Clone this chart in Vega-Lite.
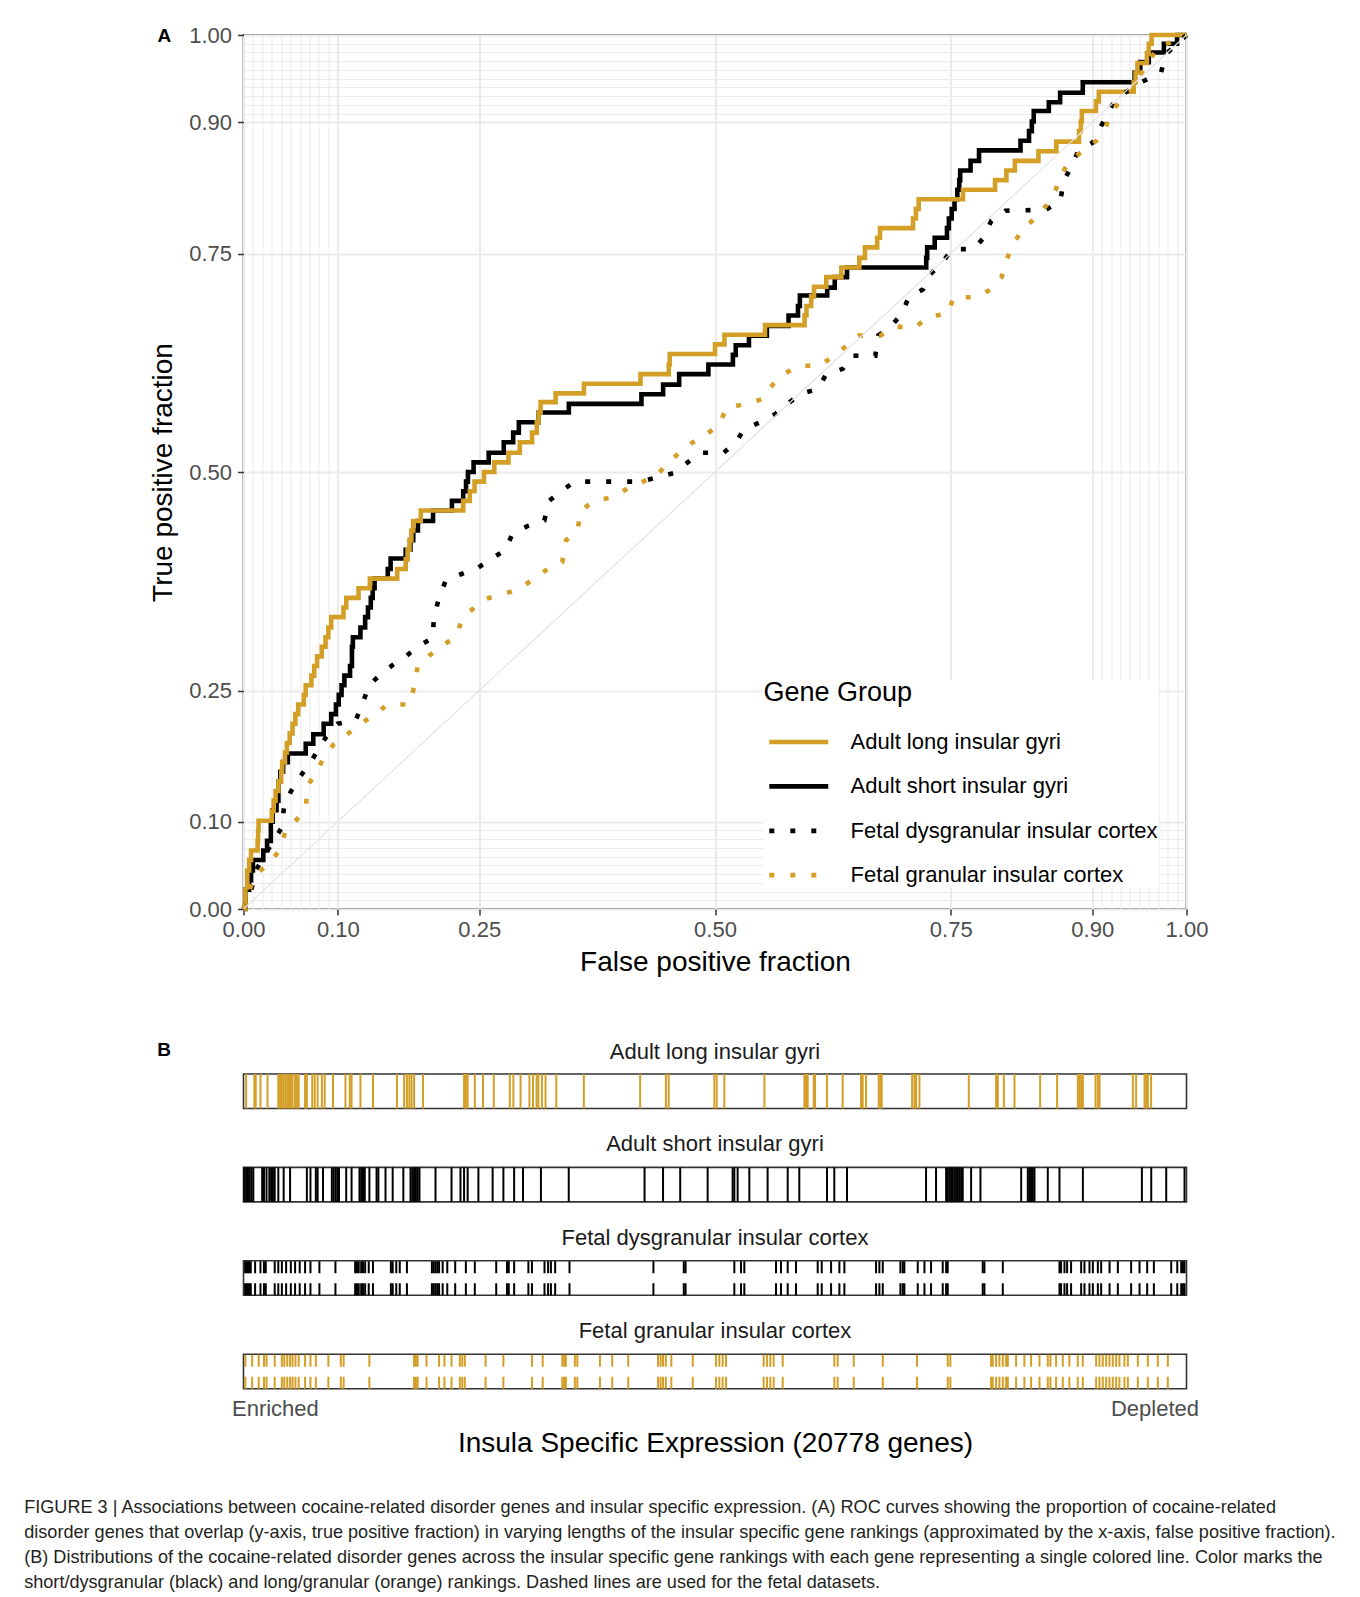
{
 "$schema": "https://vega.github.io/schema/vega-lite/v6.json",
 "background": "white",
 "padding": {"left": 23.5, "top": 23, "right": 5, "bottom": 5},
 "title": {"text": ["FIGURE 3 | Associations between cocaine-related disorder genes and insular specific expression. (A) ROC curves showing the proportion of cocaine-related", "disorder genes that overlap (y-axis, true positive fraction) in varying lengths of the insular specific gene rankings (approximated by the x-axis, false positive fraction).", "(B) Distributions of the cocaine-related disorder genes across the insular specific gene rankings with each gene representing a single colored line. Color marks the", "short/dysgranular (black) and long/granular (orange) rankings. Dashed lines are used for the fetal datasets."], "orient": "bottom", "anchor": "start", "frame": "bounds", "dx": -124.5, "offset": 40, "fontSize": 18.1, "lineHeight": 25, "fontWeight": "normal", "color": "#231F20", "font": "Liberation Sans"},
 "datasets": {
  "chance": [{"fpf": 0, "tpf": 0}, {"fpf": 1, "tpf": 1}],
  "roc_solid": [
   {"group": "Adult short insular gyri", "fpf": 0, "tpf": 0},
   {"group": "Adult short insular gyri", "fpf": 0.002, "tpf": 0.022},
   {"group": "Adult short insular gyri", "fpf": 0.006, "tpf": 0.033},
   {"group": "Adult short insular gyri", "fpf": 0.008, "tpf": 0.044},
   {"group": "Adult short insular gyri", "fpf": 0.010, "tpf": 0.056},
   {"group": "Adult short insular gyri", "fpf": 0.021, "tpf": 0.067},
   {"group": "Adult short insular gyri", "fpf": 0.025, "tpf": 0.078},
   {"group": "Adult short insular gyri", "fpf": 0.029, "tpf": 0.100},
   {"group": "Adult short insular gyri", "fpf": 0.031, "tpf": 0.113},
   {"group": "Adult short insular gyri", "fpf": 0.035, "tpf": 0.124},
   {"group": "Adult short insular gyri", "fpf": 0.037, "tpf": 0.146},
   {"group": "Adult short insular gyri", "fpf": 0.039, "tpf": 0.157},
   {"group": "Adult short insular gyri", "fpf": 0.042, "tpf": 0.168},
   {"group": "Adult short insular gyri", "fpf": 0.047, "tpf": 0.178},
   {"group": "Adult short insular gyri", "fpf": 0.066, "tpf": 0.189},
   {"group": "Adult short insular gyri", "fpf": 0.074, "tpf": 0.200},
   {"group": "Adult short insular gyri", "fpf": 0.085, "tpf": 0.212},
   {"group": "Adult short insular gyri", "fpf": 0.093, "tpf": 0.223},
   {"group": "Adult short insular gyri", "fpf": 0.098, "tpf": 0.234},
   {"group": "Adult short insular gyri", "fpf": 0.101, "tpf": 0.245},
   {"group": "Adult short insular gyri", "fpf": 0.104, "tpf": 0.256},
   {"group": "Adult short insular gyri", "fpf": 0.107, "tpf": 0.267},
   {"group": "Adult short insular gyri", "fpf": 0.113, "tpf": 0.278},
   {"group": "Adult short insular gyri", "fpf": 0.115, "tpf": 0.300},
   {"group": "Adult short insular gyri", "fpf": 0.116, "tpf": 0.311},
   {"group": "Adult short insular gyri", "fpf": 0.124, "tpf": 0.322},
   {"group": "Adult short insular gyri", "fpf": 0.129, "tpf": 0.334},
   {"group": "Adult short insular gyri", "fpf": 0.132, "tpf": 0.345},
   {"group": "Adult short insular gyri", "fpf": 0.135, "tpf": 0.356},
   {"group": "Adult short insular gyri", "fpf": 0.137, "tpf": 0.367},
   {"group": "Adult short insular gyri", "fpf": 0.139, "tpf": 0.378},
   {"group": "Adult short insular gyri", "fpf": 0.153, "tpf": 0.389},
   {"group": "Adult short insular gyri", "fpf": 0.156, "tpf": 0.401},
   {"group": "Adult short insular gyri", "fpf": 0.172, "tpf": 0.411},
   {"group": "Adult short insular gyri", "fpf": 0.177, "tpf": 0.422},
   {"group": "Adult short insular gyri", "fpf": 0.180, "tpf": 0.433},
   {"group": "Adult short insular gyri", "fpf": 0.185, "tpf": 0.444},
   {"group": "Adult short insular gyri", "fpf": 0.201, "tpf": 0.456},
   {"group": "Adult short insular gyri", "fpf": 0.221, "tpf": 0.467},
   {"group": "Adult short insular gyri", "fpf": 0.233, "tpf": 0.478},
   {"group": "Adult short insular gyri", "fpf": 0.236, "tpf": 0.489},
   {"group": "Adult short insular gyri", "fpf": 0.238, "tpf": 0.500},
   {"group": "Adult short insular gyri", "fpf": 0.244, "tpf": 0.511},
   {"group": "Adult short insular gyri", "fpf": 0.260, "tpf": 0.522},
   {"group": "Adult short insular gyri", "fpf": 0.276, "tpf": 0.534},
   {"group": "Adult short insular gyri", "fpf": 0.286, "tpf": 0.545},
   {"group": "Adult short insular gyri", "fpf": 0.292, "tpf": 0.557},
   {"group": "Adult short insular gyri", "fpf": 0.313, "tpf": 0.568},
   {"group": "Adult short insular gyri", "fpf": 0.345, "tpf": 0.578},
   {"group": "Adult short insular gyri", "fpf": 0.422, "tpf": 0.589},
   {"group": "Adult short insular gyri", "fpf": 0.445, "tpf": 0.600},
   {"group": "Adult short insular gyri", "fpf": 0.462, "tpf": 0.612},
   {"group": "Adult short insular gyri", "fpf": 0.493, "tpf": 0.623},
   {"group": "Adult short insular gyri", "fpf": 0.519, "tpf": 0.634},
   {"group": "Adult short insular gyri", "fpf": 0.522, "tpf": 0.645},
   {"group": "Adult short insular gyri", "fpf": 0.536, "tpf": 0.656},
   {"group": "Adult short insular gyri", "fpf": 0.555, "tpf": 0.667},
   {"group": "Adult short insular gyri", "fpf": 0.578, "tpf": 0.679},
   {"group": "Adult short insular gyri", "fpf": 0.588, "tpf": 0.690},
   {"group": "Adult short insular gyri", "fpf": 0.590, "tpf": 0.702},
   {"group": "Adult short insular gyri", "fpf": 0.619, "tpf": 0.711},
   {"group": "Adult short insular gyri", "fpf": 0.627, "tpf": 0.723},
   {"group": "Adult short insular gyri", "fpf": 0.640, "tpf": 0.734},
   {"group": "Adult short insular gyri", "fpf": 0.724, "tpf": 0.745},
   {"group": "Adult short insular gyri", "fpf": 0.725, "tpf": 0.757},
   {"group": "Adult short insular gyri", "fpf": 0.733, "tpf": 0.768},
   {"group": "Adult short insular gyri", "fpf": 0.746, "tpf": 0.779},
   {"group": "Adult short insular gyri", "fpf": 0.748, "tpf": 0.790},
   {"group": "Adult short insular gyri", "fpf": 0.751, "tpf": 0.801},
   {"group": "Adult short insular gyri", "fpf": 0.754, "tpf": 0.812},
   {"group": "Adult short insular gyri", "fpf": 0.757, "tpf": 0.823},
   {"group": "Adult short insular gyri", "fpf": 0.759, "tpf": 0.834},
   {"group": "Adult short insular gyri", "fpf": 0.760, "tpf": 0.845},
   {"group": "Adult short insular gyri", "fpf": 0.771, "tpf": 0.856},
   {"group": "Adult short insular gyri", "fpf": 0.780, "tpf": 0.868},
   {"group": "Adult short insular gyri", "fpf": 0.824, "tpf": 0.879},
   {"group": "Adult short insular gyri", "fpf": 0.833, "tpf": 0.890},
   {"group": "Adult short insular gyri", "fpf": 0.836, "tpf": 0.901},
   {"group": "Adult short insular gyri", "fpf": 0.838, "tpf": 0.913},
   {"group": "Adult short insular gyri", "fpf": 0.854, "tpf": 0.923},
   {"group": "Adult short insular gyri", "fpf": 0.866, "tpf": 0.934},
   {"group": "Adult short insular gyri", "fpf": 0.890, "tpf": 0.946},
   {"group": "Adult short insular gyri", "fpf": 0.945, "tpf": 0.957},
   {"group": "Adult short insular gyri", "fpf": 0.951, "tpf": 0.969},
   {"group": "Adult short insular gyri", "fpf": 0.960, "tpf": 0.980},
   {"group": "Adult short insular gyri", "fpf": 0.976, "tpf": 0.990},
   {"group": "Adult short insular gyri", "fpf": 0.990, "tpf": 1.000},
   {"group": "Adult short insular gyri", "fpf": 1.000, "tpf": 1.000},
   {"group": "Adult long insular gyri", "fpf": 0, "tpf": 0},
   {"group": "Adult long insular gyri", "fpf": 0.002, "tpf": 0.022},
   {"group": "Adult long insular gyri", "fpf": 0.004, "tpf": 0.044},
   {"group": "Adult long insular gyri", "fpf": 0.006, "tpf": 0.056},
   {"group": "Adult long insular gyri", "fpf": 0.008, "tpf": 0.067},
   {"group": "Adult long insular gyri", "fpf": 0.015, "tpf": 0.078},
   {"group": "Adult long insular gyri", "fpf": 0.0155, "tpf": 0.090},
   {"group": "Adult long insular gyri", "fpf": 0.016, "tpf": 0.101},
   {"group": "Adult long insular gyri", "fpf": 0.030, "tpf": 0.112},
   {"group": "Adult long insular gyri", "fpf": 0.032, "tpf": 0.124},
   {"group": "Adult long insular gyri", "fpf": 0.034, "tpf": 0.135},
   {"group": "Adult long insular gyri", "fpf": 0.037, "tpf": 0.146},
   {"group": "Adult long insular gyri", "fpf": 0.040, "tpf": 0.157},
   {"group": "Adult long insular gyri", "fpf": 0.041, "tpf": 0.168},
   {"group": "Adult long insular gyri", "fpf": 0.044, "tpf": 0.179},
   {"group": "Adult long insular gyri", "fpf": 0.046, "tpf": 0.190},
   {"group": "Adult long insular gyri", "fpf": 0.049, "tpf": 0.201},
   {"group": "Adult long insular gyri", "fpf": 0.052, "tpf": 0.212},
   {"group": "Adult long insular gyri", "fpf": 0.055, "tpf": 0.223},
   {"group": "Adult long insular gyri", "fpf": 0.058, "tpf": 0.234},
   {"group": "Adult long insular gyri", "fpf": 0.064, "tpf": 0.245},
   {"group": "Adult long insular gyri", "fpf": 0.066, "tpf": 0.256},
   {"group": "Adult long insular gyri", "fpf": 0.072, "tpf": 0.267},
   {"group": "Adult long insular gyri", "fpf": 0.075, "tpf": 0.278},
   {"group": "Adult long insular gyri", "fpf": 0.078, "tpf": 0.289},
   {"group": "Adult long insular gyri", "fpf": 0.083, "tpf": 0.300},
   {"group": "Adult long insular gyri", "fpf": 0.087, "tpf": 0.311},
   {"group": "Adult long insular gyri", "fpf": 0.090, "tpf": 0.322},
   {"group": "Adult long insular gyri", "fpf": 0.093, "tpf": 0.334},
   {"group": "Adult long insular gyri", "fpf": 0.106, "tpf": 0.345},
   {"group": "Adult long insular gyri", "fpf": 0.109, "tpf": 0.356},
   {"group": "Adult long insular gyri", "fpf": 0.122, "tpf": 0.367},
   {"group": "Adult long insular gyri", "fpf": 0.134, "tpf": 0.378},
   {"group": "Adult long insular gyri", "fpf": 0.163, "tpf": 0.389},
   {"group": "Adult long insular gyri", "fpf": 0.172, "tpf": 0.400},
   {"group": "Adult long insular gyri", "fpf": 0.174, "tpf": 0.411},
   {"group": "Adult long insular gyri", "fpf": 0.176, "tpf": 0.422},
   {"group": "Adult long insular gyri", "fpf": 0.178, "tpf": 0.433},
   {"group": "Adult long insular gyri", "fpf": 0.180, "tpf": 0.444},
   {"group": "Adult long insular gyri", "fpf": 0.188, "tpf": 0.456},
   {"group": "Adult long insular gyri", "fpf": 0.233, "tpf": 0.467},
   {"group": "Adult long insular gyri", "fpf": 0.240, "tpf": 0.478},
   {"group": "Adult long insular gyri", "fpf": 0.245, "tpf": 0.489},
   {"group": "Adult long insular gyri", "fpf": 0.255, "tpf": 0.500},
   {"group": "Adult long insular gyri", "fpf": 0.266, "tpf": 0.511},
   {"group": "Adult long insular gyri", "fpf": 0.281, "tpf": 0.522},
   {"group": "Adult long insular gyri", "fpf": 0.293, "tpf": 0.534},
   {"group": "Adult long insular gyri", "fpf": 0.306, "tpf": 0.545},
   {"group": "Adult long insular gyri", "fpf": 0.311, "tpf": 0.557},
   {"group": "Adult long insular gyri", "fpf": 0.313, "tpf": 0.568},
   {"group": "Adult long insular gyri", "fpf": 0.315, "tpf": 0.580},
   {"group": "Adult long insular gyri", "fpf": 0.331, "tpf": 0.590},
   {"group": "Adult long insular gyri", "fpf": 0.361, "tpf": 0.601},
   {"group": "Adult long insular gyri", "fpf": 0.421, "tpf": 0.612},
   {"group": "Adult long insular gyri", "fpf": 0.451, "tpf": 0.623},
   {"group": "Adult long insular gyri", "fpf": 0.452, "tpf": 0.635},
   {"group": "Adult long insular gyri", "fpf": 0.500, "tpf": 0.646},
   {"group": "Adult long insular gyri", "fpf": 0.510, "tpf": 0.657},
   {"group": "Adult long insular gyri", "fpf": 0.553, "tpf": 0.668},
   {"group": "Adult long insular gyri", "fpf": 0.595, "tpf": 0.679},
   {"group": "Adult long insular gyri", "fpf": 0.597, "tpf": 0.690},
   {"group": "Adult long insular gyri", "fpf": 0.602, "tpf": 0.701},
   {"group": "Adult long insular gyri", "fpf": 0.605, "tpf": 0.712},
   {"group": "Adult long insular gyri", "fpf": 0.618, "tpf": 0.723},
   {"group": "Adult long insular gyri", "fpf": 0.634, "tpf": 0.734},
   {"group": "Adult long insular gyri", "fpf": 0.653, "tpf": 0.745},
   {"group": "Adult long insular gyri", "fpf": 0.659, "tpf": 0.757},
   {"group": "Adult long insular gyri", "fpf": 0.672, "tpf": 0.768},
   {"group": "Adult long insular gyri", "fpf": 0.675, "tpf": 0.779},
   {"group": "Adult long insular gyri", "fpf": 0.710, "tpf": 0.790},
   {"group": "Adult long insular gyri", "fpf": 0.713, "tpf": 0.801},
   {"group": "Adult long insular gyri", "fpf": 0.716, "tpf": 0.812},
   {"group": "Adult long insular gyri", "fpf": 0.763, "tpf": 0.823},
   {"group": "Adult long insular gyri", "fpf": 0.797, "tpf": 0.834},
   {"group": "Adult long insular gyri", "fpf": 0.809, "tpf": 0.845},
   {"group": "Adult long insular gyri", "fpf": 0.818, "tpf": 0.856},
   {"group": "Adult long insular gyri", "fpf": 0.843, "tpf": 0.867},
   {"group": "Adult long insular gyri", "fpf": 0.862, "tpf": 0.878},
   {"group": "Adult long insular gyri", "fpf": 0.886, "tpf": 0.890},
   {"group": "Adult long insular gyri", "fpf": 0.888, "tpf": 0.901},
   {"group": "Adult long insular gyri", "fpf": 0.889, "tpf": 0.913},
   {"group": "Adult long insular gyri", "fpf": 0.904, "tpf": 0.924},
   {"group": "Adult long insular gyri", "fpf": 0.907, "tpf": 0.935},
   {"group": "Adult long insular gyri", "fpf": 0.944, "tpf": 0.946},
   {"group": "Adult long insular gyri", "fpf": 0.946, "tpf": 0.957},
   {"group": "Adult long insular gyri", "fpf": 0.948, "tpf": 0.968},
   {"group": "Adult long insular gyri", "fpf": 0.958, "tpf": 0.979},
   {"group": "Adult long insular gyri", "fpf": 0.960, "tpf": 0.990},
   {"group": "Adult long insular gyri", "fpf": 0.963, "tpf": 1.000},
   {"group": "Adult long insular gyri", "fpf": 1.000, "tpf": 1.000}
  ],
  "roc_dotted": [
   {"group": "Fetal dysgranular insular cortex", "fpf": 0, "tpf": 0},
   {"group": "Fetal dysgranular insular cortex", "fpf": 0.008, "tpf": 0.021},
   {"group": "Fetal dysgranular insular cortex", "fpf": 0.013, "tpf": 0.044},
   {"group": "Fetal dysgranular insular cortex", "fpf": 0.025, "tpf": 0.066},
   {"group": "Fetal dysgranular insular cortex", "fpf": 0.040, "tpf": 0.092},
   {"group": "Fetal dysgranular insular cortex", "fpf": 0.043, "tpf": 0.116},
   {"group": "Fetal dysgranular insular cortex", "fpf": 0.050, "tpf": 0.134},
   {"group": "Fetal dysgranular insular cortex", "fpf": 0.059, "tpf": 0.150},
   {"group": "Fetal dysgranular insular cortex", "fpf": 0.070, "tpf": 0.166},
   {"group": "Fetal dysgranular insular cortex", "fpf": 0.0785, "tpf": 0.181},
   {"group": "Fetal dysgranular insular cortex", "fpf": 0.087, "tpf": 0.196},
   {"group": "Fetal dysgranular insular cortex", "fpf": 0.100, "tpf": 0.212},
   {"group": "Fetal dysgranular insular cortex", "fpf": 0.119, "tpf": 0.216},
   {"group": "Fetal dysgranular insular cortex", "fpf": 0.126, "tpf": 0.234},
   {"group": "Fetal dysgranular insular cortex", "fpf": 0.133, "tpf": 0.256},
   {"group": "Fetal dysgranular insular cortex", "fpf": 0.144, "tpf": 0.267},
   {"group": "Fetal dysgranular insular cortex", "fpf": 0.158, "tpf": 0.279},
   {"group": "Fetal dysgranular insular cortex", "fpf": 0.172, "tpf": 0.289},
   {"group": "Fetal dysgranular insular cortex", "fpf": 0.186, "tpf": 0.301},
   {"group": "Fetal dysgranular insular cortex", "fpf": 0.2005, "tpf": 0.310},
   {"group": "Fetal dysgranular insular cortex", "fpf": 0.202, "tpf": 0.334},
   {"group": "Fetal dysgranular insular cortex", "fpf": 0.2076, "tpf": 0.357},
   {"group": "Fetal dysgranular insular cortex", "fpf": 0.2146, "tpf": 0.376},
   {"group": "Fetal dysgranular insular cortex", "fpf": 0.2305, "tpf": 0.383},
   {"group": "Fetal dysgranular insular cortex", "fpf": 0.248, "tpf": 0.390},
   {"group": "Fetal dysgranular insular cortex", "fpf": 0.262, "tpf": 0.400},
   {"group": "Fetal dysgranular insular cortex", "fpf": 0.278, "tpf": 0.411},
   {"group": "Fetal dysgranular insular cortex", "fpf": 0.285, "tpf": 0.429},
   {"group": "Fetal dysgranular insular cortex", "fpf": 0.301, "tpf": 0.438},
   {"group": "Fetal dysgranular insular cortex", "fpf": 0.319, "tpf": 0.4445},
   {"group": "Fetal dysgranular insular cortex", "fpf": 0.324, "tpf": 0.467},
   {"group": "Fetal dysgranular insular cortex", "fpf": 0.337, "tpf": 0.478},
   {"group": "Fetal dysgranular insular cortex", "fpf": 0.351, "tpf": 0.489},
   {"group": "Fetal dysgranular insular cortex", "fpf": 0.4214, "tpf": 0.489},
   {"group": "Fetal dysgranular insular cortex", "fpf": 0.457, "tpf": 0.499},
   {"group": "Fetal dysgranular insular cortex", "fpf": 0.471, "tpf": 0.511},
   {"group": "Fetal dysgranular insular cortex", "fpf": 0.484, "tpf": 0.522},
   {"group": "Fetal dysgranular insular cortex", "fpf": 0.509, "tpf": 0.522},
   {"group": "Fetal dysgranular insular cortex", "fpf": 0.522, "tpf": 0.534},
   {"group": "Fetal dysgranular insular cortex", "fpf": 0.531, "tpf": 0.549},
   {"group": "Fetal dysgranular insular cortex", "fpf": 0.548, "tpf": 0.557},
   {"group": "Fetal dysgranular insular cortex", "fpf": 0.5635, "tpf": 0.566},
   {"group": "Fetal dysgranular insular cortex", "fpf": 0.577, "tpf": 0.578},
   {"group": "Fetal dysgranular insular cortex", "fpf": 0.590, "tpf": 0.589},
   {"group": "Fetal dysgranular insular cortex", "fpf": 0.609, "tpf": 0.595},
   {"group": "Fetal dysgranular insular cortex", "fpf": 0.618, "tpf": 0.612},
   {"group": "Fetal dysgranular insular cortex", "fpf": 0.6355, "tpf": 0.618},
   {"group": "Fetal dysgranular insular cortex", "fpf": 0.645, "tpf": 0.633},
   {"group": "Fetal dysgranular insular cortex", "fpf": 0.670, "tpf": 0.633},
   {"group": "Fetal dysgranular insular cortex", "fpf": 0.673, "tpf": 0.656},
   {"group": "Fetal dysgranular insular cortex", "fpf": 0.687, "tpf": 0.667},
   {"group": "Fetal dysgranular insular cortex", "fpf": 0.698, "tpf": 0.681},
   {"group": "Fetal dysgranular insular cortex", "fpf": 0.7055, "tpf": 0.700},
   {"group": "Fetal dysgranular insular cortex", "fpf": 0.7206, "tpf": 0.709},
   {"group": "Fetal dysgranular insular cortex", "fpf": 0.728, "tpf": 0.726},
   {"group": "Fetal dysgranular insular cortex", "fpf": 0.7416, "tpf": 0.740},
   {"group": "Fetal dysgranular insular cortex", "fpf": 0.751, "tpf": 0.755},
   {"group": "Fetal dysgranular insular cortex", "fpf": 0.774, "tpf": 0.755},
   {"group": "Fetal dysgranular insular cortex", "fpf": 0.785, "tpf": 0.768},
   {"group": "Fetal dysgranular insular cortex", "fpf": 0.793, "tpf": 0.7875},
   {"group": "Fetal dysgranular insular cortex", "fpf": 0.808, "tpf": 0.799},
   {"group": "Fetal dysgranular insular cortex", "fpf": 0.851, "tpf": 0.800},
   {"group": "Fetal dysgranular insular cortex", "fpf": 0.866, "tpf": 0.810},
   {"group": "Fetal dysgranular insular cortex", "fpf": 0.870, "tpf": 0.833},
   {"group": "Fetal dysgranular insular cortex", "fpf": 0.878, "tpf": 0.850},
   {"group": "Fetal dysgranular insular cortex", "fpf": 0.8855, "tpf": 0.868},
   {"group": "Fetal dysgranular insular cortex", "fpf": 0.9006, "tpf": 0.877},
   {"group": "Fetal dysgranular insular cortex", "fpf": 0.910, "tpf": 0.897},
   {"group": "Fetal dysgranular insular cortex", "fpf": 0.918, "tpf": 0.913},
   {"group": "Fetal dysgranular insular cortex", "fpf": 0.925, "tpf": 0.927},
   {"group": "Fetal dysgranular insular cortex", "fpf": 0.952, "tpf": 0.946},
   {"group": "Fetal dysgranular insular cortex", "fpf": 0.973, "tpf": 0.957},
   {"group": "Fetal dysgranular insular cortex", "fpf": 0.978, "tpf": 0.978},
   {"group": "Fetal dysgranular insular cortex", "fpf": 0.993, "tpf": 0.993},
   {"group": "Fetal dysgranular insular cortex", "fpf": 1.0, "tpf": 1.0},
   {"group": "Fetal granular insular cortex", "fpf": 0, "tpf": 0},
   {"group": "Fetal granular insular cortex", "fpf": 0.006, "tpf": 0.021},
   {"group": "Fetal granular insular cortex", "fpf": 0.013, "tpf": 0.040},
   {"group": "Fetal granular insular cortex", "fpf": 0.027, "tpf": 0.0515},
   {"group": "Fetal granular insular cortex", "fpf": 0.038, "tpf": 0.067},
   {"group": "Fetal granular insular cortex", "fpf": 0.045, "tpf": 0.090},
   {"group": "Fetal granular insular cortex", "fpf": 0.0555, "tpf": 0.101},
   {"group": "Fetal granular insular cortex", "fpf": 0.066, "tpf": 0.116},
   {"group": "Fetal granular insular cortex", "fpf": 0.068, "tpf": 0.141},
   {"group": "Fetal granular insular cortex", "fpf": 0.077, "tpf": 0.156},
   {"group": "Fetal granular insular cortex", "fpf": 0.0856, "tpf": 0.174},
   {"group": "Fetal granular insular cortex", "fpf": 0.096, "tpf": 0.189},
   {"group": "Fetal granular insular cortex", "fpf": 0.110, "tpf": 0.200},
   {"group": "Fetal granular insular cortex", "fpf": 0.1245, "tpf": 0.212},
   {"group": "Fetal granular insular cortex", "fpf": 0.1386, "tpf": 0.222},
   {"group": "Fetal granular insular cortex", "fpf": 0.1528, "tpf": 0.234},
   {"group": "Fetal granular insular cortex", "fpf": 0.1757, "tpf": 0.234},
   {"group": "Fetal granular insular cortex", "fpf": 0.181, "tpf": 0.254},
   {"group": "Fetal granular insular cortex", "fpf": 0.1846, "tpf": 0.277},
   {"group": "Fetal granular insular cortex", "fpf": 0.197, "tpf": 0.290},
   {"group": "Fetal granular insular cortex", "fpf": 0.211, "tpf": 0.301},
   {"group": "Fetal granular insular cortex", "fpf": 0.225, "tpf": 0.312},
   {"group": "Fetal granular insular cortex", "fpf": 0.2323, "tpf": 0.332},
   {"group": "Fetal granular insular cortex", "fpf": 0.2447, "tpf": 0.345},
   {"group": "Fetal granular insular cortex", "fpf": 0.257, "tpf": 0.355},
   {"group": "Fetal granular insular cortex", "fpf": 0.2765, "tpf": 0.3605},
   {"group": "Fetal granular insular cortex", "fpf": 0.294, "tpf": 0.367},
   {"group": "Fetal granular insular cortex", "fpf": 0.308, "tpf": 0.378},
   {"group": "Fetal granular insular cortex", "fpf": 0.3225, "tpf": 0.389},
   {"group": "Fetal granular insular cortex", "fpf": 0.338, "tpf": 0.397},
   {"group": "Fetal granular insular cortex", "fpf": 0.342, "tpf": 0.422},
   {"group": "Fetal granular insular cortex", "fpf": 0.354, "tpf": 0.433},
   {"group": "Fetal granular insular cortex", "fpf": 0.358, "tpf": 0.456},
   {"group": "Fetal granular insular cortex", "fpf": 0.372, "tpf": 0.467},
   {"group": "Fetal granular insular cortex", "fpf": 0.391, "tpf": 0.471},
   {"group": "Fetal granular insular cortex", "fpf": 0.407, "tpf": 0.481},
   {"group": "Fetal granular insular cortex", "fpf": 0.4214, "tpf": 0.488},
   {"group": "Fetal granular insular cortex", "fpf": 0.4385, "tpf": 0.4956},
   {"group": "Fetal granular insular cortex", "fpf": 0.4498, "tpf": 0.511},
   {"group": "Fetal granular insular cortex", "fpf": 0.4764, "tpf": 0.534},
   {"group": "Fetal granular insular cortex", "fpf": 0.4915, "tpf": 0.5433},
   {"group": "Fetal granular insular cortex", "fpf": 0.5048, "tpf": 0.555},
   {"group": "Fetal granular insular cortex", "fpf": 0.5124, "tpf": 0.574},
   {"group": "Fetal granular insular cortex", "fpf": 0.533, "tpf": 0.5776},
   {"group": "Fetal granular insular cortex", "fpf": 0.550, "tpf": 0.5834},
   {"group": "Fetal granular insular cortex", "fpf": 0.5616, "tpf": 0.6005},
   {"group": "Fetal granular insular cortex", "fpf": 0.573, "tpf": 0.612},
   {"group": "Fetal granular insular cortex", "fpf": 0.588, "tpf": 0.6215},
   {"group": "Fetal granular insular cortex", "fpf": 0.611, "tpf": 0.6215},
   {"group": "Fetal granular insular cortex", "fpf": 0.626, "tpf": 0.633},
   {"group": "Fetal granular insular cortex", "fpf": 0.639, "tpf": 0.644},
   {"group": "Fetal granular insular cortex", "fpf": 0.6525, "tpf": 0.656},
   {"group": "Fetal granular insular cortex", "fpf": 0.675, "tpf": 0.656},
   {"group": "Fetal granular insular cortex", "fpf": 0.690, "tpf": 0.666},
   {"group": "Fetal granular insular cortex", "fpf": 0.713, "tpf": 0.666},
   {"group": "Fetal granular insular cortex", "fpf": 0.7264, "tpf": 0.678},
   {"group": "Fetal granular insular cortex", "fpf": 0.747, "tpf": 0.681},
   {"group": "Fetal granular insular cortex", "fpf": 0.753, "tpf": 0.700},
   {"group": "Fetal granular insular cortex", "fpf": 0.7776, "tpf": 0.700},
   {"group": "Fetal granular insular cortex", "fpf": 0.7926, "tpf": 0.709},
   {"group": "Fetal granular insular cortex", "fpf": 0.804, "tpf": 0.723},
   {"group": "Fetal granular insular cortex", "fpf": 0.8097, "tpf": 0.744},
   {"group": "Fetal granular insular cortex", "fpf": 0.8173, "tpf": 0.763},
   {"group": "Fetal granular insular cortex", "fpf": 0.8267, "tpf": 0.778},
   {"group": "Fetal granular insular cortex", "fpf": 0.838, "tpf": 0.789},
   {"group": "Fetal granular insular cortex", "fpf": 0.8514, "tpf": 0.805},
   {"group": "Fetal granular insular cortex", "fpf": 0.861, "tpf": 0.822},
   {"group": "Fetal granular insular cortex", "fpf": 0.8666, "tpf": 0.839},
   {"group": "Fetal granular insular cortex", "fpf": 0.876, "tpf": 0.856},
   {"group": "Fetal granular insular cortex", "fpf": 0.8912, "tpf": 0.868},
   {"group": "Fetal granular insular cortex", "fpf": 0.9045, "tpf": 0.879},
   {"group": "Fetal granular insular cortex", "fpf": 0.914, "tpf": 0.894},
   {"group": "Fetal granular insular cortex", "fpf": 0.9215, "tpf": 0.913},
   {"group": "Fetal granular insular cortex", "fpf": 0.931, "tpf": 0.927},
   {"group": "Fetal granular insular cortex", "fpf": 0.944, "tpf": 0.938},
   {"group": "Fetal granular insular cortex", "fpf": 0.9536, "tpf": 0.959},
   {"group": "Fetal granular insular cortex", "fpf": 0.971, "tpf": 0.988},
   {"group": "Fetal granular insular cortex", "fpf": 0.982, "tpf": 0.991},
   {"group": "Fetal granular insular cortex", "fpf": 1.0, "tpf": 1.0}
  ],
  "strips": [
   {"group": "Adult long insular gyri", "pct": 0.0028}, {"group": "Adult long insular gyri", "pct": 0.0115}, {"group": "Adult long insular gyri", "pct": 0.013}, {"group": "Adult long insular gyri", "pct": 0.018}, {"group": "Adult long insular gyri", "pct": 0.0255}, {"group": "Adult long insular gyri", "pct": 0.0369}, {"group": "Adult long insular gyri", "pct": 0.0388}, {"group": "Adult long insular gyri", "pct": 0.0407}, {"group": "Adult long insular gyri", "pct": 0.0426}, {"group": "Adult long insular gyri", "pct": 0.0445}, {"group": "Adult long insular gyri", "pct": 0.0464}, {"group": "Adult long insular gyri", "pct": 0.0483}, {"group": "Adult long insular gyri", "pct": 0.0502}, {"group": "Adult long insular gyri", "pct": 0.052}, {"group": "Adult long insular gyri", "pct": 0.0547}, {"group": "Adult long insular gyri", "pct": 0.0566}, {"group": "Adult long insular gyri", "pct": 0.0585}, {"group": "Adult long insular gyri", "pct": 0.0653}, {"group": "Adult long insular gyri", "pct": 0.0672}, {"group": "Adult long insular gyri", "pct": 0.0729}, {"group": "Adult long insular gyri", "pct": 0.0755}, {"group": "Adult long insular gyri", "pct": 0.0786}, {"group": "Adult long insular gyri", "pct": 0.0831}, {"group": "Adult long insular gyri", "pct": 0.0861}, {"group": "Adult long insular gyri", "pct": 0.0949}, {"group": "Adult long insular gyri", "pct": 0.1081}, {"group": "Adult long insular gyri", "pct": 0.1127}, {"group": "Adult long insular gyri", "pct": 0.1146}, {"group": "Adult long insular gyri", "pct": 0.124}, {"group": "Adult long insular gyri", "pct": 0.1373}, {"group": "Adult long insular gyri", "pct": 0.1627}, {"group": "Adult long insular gyri", "pct": 0.1703}, {"group": "Adult long insular gyri", "pct": 0.1733}, {"group": "Adult long insular gyri", "pct": 0.1759}, {"group": "Adult long insular gyri", "pct": 0.1782}, {"group": "Adult long insular gyri", "pct": 0.1809}, {"group": "Adult long insular gyri", "pct": 0.1904}, {"group": "Adult long insular gyri", "pct": 0.2339}, {"group": "Adult long insular gyri", "pct": 0.2358}, {"group": "Adult long insular gyri", "pct": 0.2377}, {"group": "Adult long insular gyri", "pct": 0.2453}, {"group": "Adult long insular gyri", "pct": 0.254}, {"group": "Adult long insular gyri", "pct": 0.2654}, {"group": "Adult long insular gyri", "pct": 0.2824}, {"group": "Adult long insular gyri", "pct": 0.2862}, {"group": "Adult long insular gyri", "pct": 0.2938}, {"group": "Adult long insular gyri", "pct": 0.3032}, {"group": "Adult long insular gyri", "pct": 0.307}, {"group": "Adult long insular gyri", "pct": 0.3108}, {"group": "Adult long insular gyri", "pct": 0.3127}, {"group": "Adult long insular gyri", "pct": 0.3165}, {"group": "Adult long insular gyri", "pct": 0.3203}, {"group": "Adult long insular gyri", "pct": 0.3317}, {"group": "Adult long insular gyri", "pct": 0.3609}, {"group": "Adult long insular gyri", "pct": 0.4206}, {"group": "Adult long insular gyri", "pct": 0.4479}, {"group": "Adult long insular gyri", "pct": 0.4509}, {"group": "Adult long insular gyri", "pct": 0.4993}, {"group": "Adult long insular gyri", "pct": 0.5018}, {"group": "Adult long insular gyri", "pct": 0.5099}, {"group": "Adult long insular gyri", "pct": 0.5524}, {"group": "Adult long insular gyri", "pct": 0.5948}, {"group": "Adult long insular gyri", "pct": 0.5965}, {"group": "Adult long insular gyri", "pct": 0.5983}, {"group": "Adult long insular gyri", "pct": 0.6047}, {"group": "Adult long insular gyri", "pct": 0.6061}, {"group": "Adult long insular gyri", "pct": 0.6188}, {"group": "Adult long insular gyri", "pct": 0.6354}, {"group": "Adult long insular gyri", "pct": 0.6549}, {"group": "Adult long insular gyri", "pct": 0.6566}, {"group": "Adult long insular gyri", "pct": 0.6602}, {"group": "Adult long insular gyri", "pct": 0.6736}, {"group": "Adult long insular gyri", "pct": 0.6754}, {"group": "Adult long insular gyri", "pct": 0.6768}, {"group": "Adult long insular gyri", "pct": 0.709}, {"group": "Adult long insular gyri", "pct": 0.7115}, {"group": "Adult long insular gyri", "pct": 0.7132}, {"group": "Adult long insular gyri", "pct": 0.7168}, {"group": "Adult long insular gyri", "pct": 0.7691}, {"group": "Adult long insular gyri", "pct": 0.7981}, {"group": "Adult long insular gyri", "pct": 0.7999}, {"group": "Adult long insular gyri", "pct": 0.8063}, {"group": "Adult long insular gyri", "pct": 0.8176}, {"group": "Adult long insular gyri", "pct": 0.8448}, {"group": "Adult long insular gyri", "pct": 0.8628}, {"group": "Adult long insular gyri", "pct": 0.8848}, {"group": "Adult long insular gyri", "pct": 0.8865}, {"group": "Adult long insular gyri", "pct": 0.8883}, {"group": "Adult long insular gyri", "pct": 0.8901}, {"group": "Adult long insular gyri", "pct": 0.9035}, {"group": "Adult long insular gyri", "pct": 0.906}, {"group": "Adult long insular gyri", "pct": 0.9078}, {"group": "Adult long insular gyri", "pct": 0.9431}, {"group": "Adult long insular gyri", "pct": 0.9466}, {"group": "Adult long insular gyri", "pct": 0.9555}, {"group": "Adult long insular gyri", "pct": 0.9572}, {"group": "Adult long insular gyri", "pct": 0.959}, {"group": "Adult long insular gyri", "pct": 0.9625},
   {"group": "Adult short insular gyri", "pct": 0.0009}, {"group": "Adult short insular gyri", "pct": 0.0028}, {"group": "Adult short insular gyri", "pct": 0.0047}, {"group": "Adult short insular gyri", "pct": 0.0066}, {"group": "Adult short insular gyri", "pct": 0.0085}, {"group": "Adult short insular gyri", "pct": 0.0104}, {"group": "Adult short insular gyri", "pct": 0.0198}, {"group": "Adult short insular gyri", "pct": 0.0217}, {"group": "Adult short insular gyri", "pct": 0.0244}, {"group": "Adult short insular gyri", "pct": 0.0274}, {"group": "Adult short insular gyri", "pct": 0.0293}, {"group": "Adult short insular gyri", "pct": 0.0312}, {"group": "Adult short insular gyri", "pct": 0.0331}, {"group": "Adult short insular gyri", "pct": 0.0369}, {"group": "Adult short insular gyri", "pct": 0.0426}, {"group": "Adult short insular gyri", "pct": 0.0494}, {"group": "Adult short insular gyri", "pct": 0.0672}, {"group": "Adult short insular gyri", "pct": 0.071}, {"group": "Adult short insular gyri", "pct": 0.0767}, {"group": "Adult short insular gyri", "pct": 0.0786}, {"group": "Adult short insular gyri", "pct": 0.0843}, {"group": "Adult short insular gyri", "pct": 0.0937}, {"group": "Adult short insular gyri", "pct": 0.0956}, {"group": "Adult short insular gyri", "pct": 0.0975}, {"group": "Adult short insular gyri", "pct": 0.0994}, {"group": "Adult short insular gyri", "pct": 0.1013}, {"group": "Adult short insular gyri", "pct": 0.1089}, {"group": "Adult short insular gyri", "pct": 0.1146}, {"group": "Adult short insular gyri", "pct": 0.123}, {"group": "Adult short insular gyri", "pct": 0.1248}, {"group": "Adult short insular gyri", "pct": 0.1267}, {"group": "Adult short insular gyri", "pct": 0.1286}, {"group": "Adult short insular gyri", "pct": 0.1335}, {"group": "Adult short insular gyri", "pct": 0.1411}, {"group": "Adult short insular gyri", "pct": 0.143}, {"group": "Adult short insular gyri", "pct": 0.1506}, {"group": "Adult short insular gyri", "pct": 0.1582}, {"group": "Adult short insular gyri", "pct": 0.1695}, {"group": "Adult short insular gyri", "pct": 0.1771}, {"group": "Adult short insular gyri", "pct": 0.179}, {"group": "Adult short insular gyri", "pct": 0.1809}, {"group": "Adult short insular gyri", "pct": 0.1828}, {"group": "Adult short insular gyri", "pct": 0.1847}, {"group": "Adult short insular gyri", "pct": 0.1866}, {"group": "Adult short insular gyri", "pct": 0.2036}, {"group": "Adult short insular gyri", "pct": 0.2206}, {"group": "Adult short insular gyri", "pct": 0.2301}, {"group": "Adult short insular gyri", "pct": 0.2339}, {"group": "Adult short insular gyri", "pct": 0.2377}, {"group": "Adult short insular gyri", "pct": 0.2491}, {"group": "Adult short insular gyri", "pct": 0.2642}, {"group": "Adult short insular gyri", "pct": 0.2756}, {"group": "Adult short insular gyri", "pct": 0.287}, {"group": "Adult short insular gyri", "pct": 0.2964}, {"group": "Adult short insular gyri", "pct": 0.3154}, {"group": "Adult short insular gyri", "pct": 0.3449}, {"group": "Adult short insular gyri", "pct": 0.4253}, {"group": "Adult short insular gyri", "pct": 0.4449}, {"group": "Adult short insular gyri", "pct": 0.4631}, {"group": "Adult short insular gyri", "pct": 0.4922}, {"group": "Adult short insular gyri", "pct": 0.5187}, {"group": "Adult short insular gyri", "pct": 0.5205}, {"group": "Adult short insular gyri", "pct": 0.524}, {"group": "Adult short insular gyri", "pct": 0.5364}, {"group": "Adult short insular gyri", "pct": 0.5558}, {"group": "Adult short insular gyri", "pct": 0.5771}, {"group": "Adult short insular gyri", "pct": 0.5894}, {"group": "Adult short insular gyri", "pct": 0.6188}, {"group": "Adult short insular gyri", "pct": 0.6265}, {"group": "Adult short insular gyri", "pct": 0.64}, {"group": "Adult short insular gyri", "pct": 0.7238}, {"group": "Adult short insular gyri", "pct": 0.7344}, {"group": "Adult short insular gyri", "pct": 0.7451}, {"group": "Adult short insular gyri", "pct": 0.7468}, {"group": "Adult short insular gyri", "pct": 0.7486}, {"group": "Adult short insular gyri", "pct": 0.7504}, {"group": "Adult short insular gyri", "pct": 0.7521}, {"group": "Adult short insular gyri", "pct": 0.7539}, {"group": "Adult short insular gyri", "pct": 0.7557}, {"group": "Adult short insular gyri", "pct": 0.7575}, {"group": "Adult short insular gyri", "pct": 0.7592}, {"group": "Adult short insular gyri", "pct": 0.761}, {"group": "Adult short insular gyri", "pct": 0.7627}, {"group": "Adult short insular gyri", "pct": 0.7716}, {"group": "Adult short insular gyri", "pct": 0.7815}, {"group": "Adult short insular gyri", "pct": 0.8247}, {"group": "Adult short insular gyri", "pct": 0.8317}, {"group": "Adult short insular gyri", "pct": 0.8335}, {"group": "Adult short insular gyri", "pct": 0.8352}, {"group": "Adult short insular gyri", "pct": 0.837}, {"group": "Adult short insular gyri", "pct": 0.8388}, {"group": "Adult short insular gyri", "pct": 0.8529}, {"group": "Adult short insular gyri", "pct": 0.8653}, {"group": "Adult short insular gyri", "pct": 0.8901}, {"group": "Adult short insular gyri", "pct": 0.9527}, {"group": "Adult short insular gyri", "pct": 0.9626}, {"group": "Adult short insular gyri", "pct": 0.9785}, {"group": "Adult short insular gyri", "pct": 0.9979},
   {"group": "Fetal dysgranular insular cortex", "pct": 0.0017}, {"group": "Fetal dysgranular insular cortex", "pct": 0.0032}, {"group": "Fetal dysgranular insular cortex", "pct": 0.0047}, {"group": "Fetal dysgranular insular cortex", "pct": 0.0062}, {"group": "Fetal dysgranular insular cortex", "pct": 0.0077}, {"group": "Fetal dysgranular insular cortex", "pct": 0.0123}, {"group": "Fetal dysgranular insular cortex", "pct": 0.018}, {"group": "Fetal dysgranular insular cortex", "pct": 0.0217}, {"group": "Fetal dysgranular insular cortex", "pct": 0.0236}, {"group": "Fetal dysgranular insular cortex", "pct": 0.0331}, {"group": "Fetal dysgranular insular cortex", "pct": 0.0369}, {"group": "Fetal dysgranular insular cortex", "pct": 0.0407}, {"group": "Fetal dysgranular insular cortex", "pct": 0.0452}, {"group": "Fetal dysgranular insular cortex", "pct": 0.0502}, {"group": "Fetal dysgranular insular cortex", "pct": 0.0547}, {"group": "Fetal dysgranular insular cortex", "pct": 0.0596}, {"group": "Fetal dysgranular insular cortex", "pct": 0.0653}, {"group": "Fetal dysgranular insular cortex", "pct": 0.071}, {"group": "Fetal dysgranular insular cortex", "pct": 0.0805}, {"group": "Fetal dysgranular insular cortex", "pct": 0.0975}, {"group": "Fetal dysgranular insular cortex", "pct": 0.1184}, {"group": "Fetal dysgranular insular cortex", "pct": 0.1203}, {"group": "Fetal dysgranular insular cortex", "pct": 0.1222}, {"group": "Fetal dysgranular insular cortex", "pct": 0.1248}, {"group": "Fetal dysgranular insular cortex", "pct": 0.1267}, {"group": "Fetal dysgranular insular cortex", "pct": 0.129}, {"group": "Fetal dysgranular insular cortex", "pct": 0.1328}, {"group": "Fetal dysgranular insular cortex", "pct": 0.1373}, {"group": "Fetal dysgranular insular cortex", "pct": 0.1563}, {"group": "Fetal dysgranular insular cortex", "pct": 0.1582}, {"group": "Fetal dysgranular insular cortex", "pct": 0.162}, {"group": "Fetal dysgranular insular cortex", "pct": 0.1657}, {"group": "Fetal dysgranular insular cortex", "pct": 0.1733}, {"group": "Fetal dysgranular insular cortex", "pct": 0.1998}, {"group": "Fetal dysgranular insular cortex", "pct": 0.2017}, {"group": "Fetal dysgranular insular cortex", "pct": 0.2036}, {"group": "Fetal dysgranular insular cortex", "pct": 0.2055}, {"group": "Fetal dysgranular insular cortex", "pct": 0.2074}, {"group": "Fetal dysgranular insular cortex", "pct": 0.2112}, {"group": "Fetal dysgranular insular cortex", "pct": 0.2161}, {"group": "Fetal dysgranular insular cortex", "pct": 0.2245}, {"group": "Fetal dysgranular insular cortex", "pct": 0.2358}, {"group": "Fetal dysgranular insular cortex", "pct": 0.2453}, {"group": "Fetal dysgranular insular cortex", "pct": 0.268}, {"group": "Fetal dysgranular insular cortex", "pct": 0.2794}, {"group": "Fetal dysgranular insular cortex", "pct": 0.2813}, {"group": "Fetal dysgranular insular cortex", "pct": 0.287}, {"group": "Fetal dysgranular insular cortex", "pct": 0.3021}, {"group": "Fetal dysgranular insular cortex", "pct": 0.3059}, {"group": "Fetal dysgranular insular cortex", "pct": 0.3192}, {"group": "Fetal dysgranular insular cortex", "pct": 0.323}, {"group": "Fetal dysgranular insular cortex", "pct": 0.326}, {"group": "Fetal dysgranular insular cortex", "pct": 0.3305}, {"group": "Fetal dysgranular insular cortex", "pct": 0.3457}, {"group": "Fetal dysgranular insular cortex", "pct": 0.4347}, {"group": "Fetal dysgranular insular cortex", "pct": 0.4669}, {"group": "Fetal dysgranular insular cortex", "pct": 0.4688}, {"group": "Fetal dysgranular insular cortex", "pct": 0.5205}, {"group": "Fetal dysgranular insular cortex", "pct": 0.5276}, {"group": "Fetal dysgranular insular cortex", "pct": 0.5311}, {"group": "Fetal dysgranular insular cortex", "pct": 0.5647}, {"group": "Fetal dysgranular insular cortex", "pct": 0.57}, {"group": "Fetal dysgranular insular cortex", "pct": 0.5771}, {"group": "Fetal dysgranular insular cortex", "pct": 0.5859}, {"group": "Fetal dysgranular insular cortex", "pct": 0.6089}, {"group": "Fetal dysgranular insular cortex", "pct": 0.6132}, {"group": "Fetal dysgranular insular cortex", "pct": 0.6231}, {"group": "Fetal dysgranular insular cortex", "pct": 0.6319}, {"group": "Fetal dysgranular insular cortex", "pct": 0.6372}, {"group": "Fetal dysgranular insular cortex", "pct": 0.6708}, {"group": "Fetal dysgranular insular cortex", "pct": 0.6743}, {"group": "Fetal dysgranular insular cortex", "pct": 0.6779}, {"group": "Fetal dysgranular insular cortex", "pct": 0.6966}, {"group": "Fetal dysgranular insular cortex", "pct": 0.6991}, {"group": "Fetal dysgranular insular cortex", "pct": 0.7008}, {"group": "Fetal dysgranular insular cortex", "pct": 0.715}, {"group": "Fetal dysgranular insular cortex", "pct": 0.7221}, {"group": "Fetal dysgranular insular cortex", "pct": 0.7291}, {"group": "Fetal dysgranular insular cortex", "pct": 0.7415}, {"group": "Fetal dysgranular insular cortex", "pct": 0.7451}, {"group": "Fetal dysgranular insular cortex", "pct": 0.7468}, {"group": "Fetal dysgranular insular cortex", "pct": 0.7839}, {"group": "Fetal dysgranular insular cortex", "pct": 0.7857}, {"group": "Fetal dysgranular insular cortex", "pct": 0.8052}, {"group": "Fetal dysgranular insular cortex", "pct": 0.8653}, {"group": "Fetal dysgranular insular cortex", "pct": 0.867}, {"group": "Fetal dysgranular insular cortex", "pct": 0.8706}, {"group": "Fetal dysgranular insular cortex", "pct": 0.8734}, {"group": "Fetal dysgranular insular cortex", "pct": 0.8776}, {"group": "Fetal dysgranular insular cortex", "pct": 0.8883}, {"group": "Fetal dysgranular insular cortex", "pct": 0.8918}, {"group": "Fetal dysgranular insular cortex", "pct": 0.8971}, {"group": "Fetal dysgranular insular cortex", "pct": 0.9007}, {"group": "Fetal dysgranular insular cortex", "pct": 0.906}, {"group": "Fetal dysgranular insular cortex", "pct": 0.9095}, {"group": "Fetal dysgranular insular cortex", "pct": 0.9184}, {"group": "Fetal dysgranular insular cortex", "pct": 0.9272}, {"group": "Fetal dysgranular insular cortex", "pct": 0.9413}, {"group": "Fetal dysgranular insular cortex", "pct": 0.9502}, {"group": "Fetal dysgranular insular cortex", "pct": 0.9583}, {"group": "Fetal dysgranular insular cortex", "pct": 0.9654}, {"group": "Fetal dysgranular insular cortex", "pct": 0.9838}, {"group": "Fetal dysgranular insular cortex", "pct": 0.9902}, {"group": "Fetal dysgranular insular cortex", "pct": 0.9944}, {"group": "Fetal dysgranular insular cortex", "pct": 0.9962}, {"group": "Fetal dysgranular insular cortex", "pct": 0.9979},
   {"group": "Fetal granular insular cortex", "pct": 0.002}, {"group": "Fetal granular insular cortex", "pct": 0.0092}, {"group": "Fetal granular insular cortex", "pct": 0.0161}, {"group": "Fetal granular insular cortex", "pct": 0.0217}, {"group": "Fetal granular insular cortex", "pct": 0.0244}, {"group": "Fetal granular insular cortex", "pct": 0.0331}, {"group": "Fetal granular insular cortex", "pct": 0.0407}, {"group": "Fetal granular insular cortex", "pct": 0.0433}, {"group": "Fetal granular insular cortex", "pct": 0.0464}, {"group": "Fetal granular insular cortex", "pct": 0.0494}, {"group": "Fetal granular insular cortex", "pct": 0.052}, {"group": "Fetal granular insular cortex", "pct": 0.0551}, {"group": "Fetal granular insular cortex", "pct": 0.0585}, {"group": "Fetal granular insular cortex", "pct": 0.0653}, {"group": "Fetal granular insular cortex", "pct": 0.071}, {"group": "Fetal granular insular cortex", "pct": 0.0767}, {"group": "Fetal granular insular cortex", "pct": 0.09}, {"group": "Fetal granular insular cortex", "pct": 0.1032}, {"group": "Fetal granular insular cortex", "pct": 0.1062}, {"group": "Fetal granular insular cortex", "pct": 0.1335}, {"group": "Fetal granular insular cortex", "pct": 0.1809}, {"group": "Fetal granular insular cortex", "pct": 0.1828}, {"group": "Fetal granular insular cortex", "pct": 0.1847}, {"group": "Fetal granular insular cortex", "pct": 0.1941}, {"group": "Fetal granular insular cortex", "pct": 0.2074}, {"group": "Fetal granular insular cortex", "pct": 0.2131}, {"group": "Fetal granular insular cortex", "pct": 0.2206}, {"group": "Fetal granular insular cortex", "pct": 0.2294}, {"group": "Fetal granular insular cortex", "pct": 0.232}, {"group": "Fetal granular insular cortex", "pct": 0.2347}, {"group": "Fetal granular insular cortex", "pct": 0.2567}, {"group": "Fetal granular insular cortex", "pct": 0.2756}, {"group": "Fetal granular insular cortex", "pct": 0.3059}, {"group": "Fetal granular insular cortex", "pct": 0.3173}, {"group": "Fetal granular insular cortex", "pct": 0.3381}, {"group": "Fetal granular insular cortex", "pct": 0.34}, {"group": "Fetal granular insular cortex", "pct": 0.3419}, {"group": "Fetal granular insular cortex", "pct": 0.3514}, {"group": "Fetal granular insular cortex", "pct": 0.354}, {"group": "Fetal granular insular cortex", "pct": 0.378}, {"group": "Fetal granular insular cortex", "pct": 0.391}, {"group": "Fetal granular insular cortex", "pct": 0.408}, {"group": "Fetal granular insular cortex", "pct": 0.4396}, {"group": "Fetal granular insular cortex", "pct": 0.4423}, {"group": "Fetal granular insular cortex", "pct": 0.4449}, {"group": "Fetal granular insular cortex", "pct": 0.4479}, {"group": "Fetal granular insular cortex", "pct": 0.4537}, {"group": "Fetal granular insular cortex", "pct": 0.4764}, {"group": "Fetal granular insular cortex", "pct": 0.501}, {"group": "Fetal granular insular cortex", "pct": 0.5046}, {"group": "Fetal granular insular cortex", "pct": 0.5081}, {"group": "Fetal granular insular cortex", "pct": 0.5117}, {"group": "Fetal granular insular cortex", "pct": 0.5516}, {"group": "Fetal granular insular cortex", "pct": 0.5552}, {"group": "Fetal granular insular cortex", "pct": 0.5587}, {"group": "Fetal granular insular cortex", "pct": 0.5622}, {"group": "Fetal granular insular cortex", "pct": 0.5718}, {"group": "Fetal granular insular cortex", "pct": 0.6266}, {"group": "Fetal granular insular cortex", "pct": 0.6301}, {"group": "Fetal granular insular cortex", "pct": 0.6471}, {"group": "Fetal granular insular cortex", "pct": 0.6779}, {"group": "Fetal granular insular cortex", "pct": 0.7142}, {"group": "Fetal granular insular cortex", "pct": 0.7468}, {"group": "Fetal granular insular cortex", "pct": 0.7496}, {"group": "Fetal granular insular cortex", "pct": 0.7928}, {"group": "Fetal granular insular cortex", "pct": 0.7945}, {"group": "Fetal granular insular cortex", "pct": 0.7981}, {"group": "Fetal granular insular cortex", "pct": 0.8016}, {"group": "Fetal granular insular cortex", "pct": 0.8052}, {"group": "Fetal granular insular cortex", "pct": 0.8087}, {"group": "Fetal granular insular cortex", "pct": 0.8105}, {"group": "Fetal granular insular cortex", "pct": 0.8193}, {"group": "Fetal granular insular cortex", "pct": 0.8281}, {"group": "Fetal granular insular cortex", "pct": 0.8352}, {"group": "Fetal granular insular cortex", "pct": 0.8441}, {"group": "Fetal granular insular cortex", "pct": 0.8529}, {"group": "Fetal granular insular cortex", "pct": 0.8557}, {"group": "Fetal granular insular cortex", "pct": 0.8617}, {"group": "Fetal granular insular cortex", "pct": 0.8688}, {"group": "Fetal granular insular cortex", "pct": 0.8758}, {"group": "Fetal granular insular cortex", "pct": 0.8847}, {"group": "Fetal granular insular cortex", "pct": 0.89}, {"group": "Fetal granular insular cortex", "pct": 0.9042}, {"group": "Fetal granular insular cortex", "pct": 0.9077}, {"group": "Fetal granular insular cortex", "pct": 0.9112}, {"group": "Fetal granular insular cortex", "pct": 0.9148}, {"group": "Fetal granular insular cortex", "pct": 0.9183}, {"group": "Fetal granular insular cortex", "pct": 0.9218}, {"group": "Fetal granular insular cortex", "pct": 0.9254}, {"group": "Fetal granular insular cortex", "pct": 0.9289}, {"group": "Fetal granular insular cortex", "pct": 0.9342}, {"group": "Fetal granular insular cortex", "pct": 0.9378}, {"group": "Fetal granular insular cortex", "pct": 0.9484}, {"group": "Fetal granular insular cortex", "pct": 0.959}, {"group": "Fetal granular insular cortex", "pct": 0.9696}, {"group": "Fetal granular insular cortex", "pct": 0.9802}
  ]
 },
 "spacing": 62,
 "resolve": {"scale": {"x": "independent", "y": "independent"}},
 "vconcat": [
  {
   "width": 943, "height": 874,
   "title": {"text": "A", "anchor": "start", "frame": "bounds", "fontSize": 19, "fontWeight": "bold", "color": "#000000", "offset": 0, "dx": 8, "dy": 22},
   "encoding": {
    "x": {"field": "fpf", "type": "quantitative", "scale": {"domain": [0, 1], "nice": false, "zero": false},
     "axis": {"values": [0, 0.01, 0.02, 0.03, 0.04, 0.05, 0.06, 0.07, 0.08, 0.09, 0.1, 0.25, 0.5, 0.75, 0.9, 0.91, 0.92, 0.93, 0.94, 0.95, 0.96, 0.97, 0.98, 0.99, 1],
      "labelExpr": "indexof([0, 0.1, 0.25, 0.5, 0.75, 0.9, 1], datum.value) >= 0 ? format(datum.value, '.2f') : ''",
      "gridWidth": {"condition": {"test": "indexof([0, 0.1, 0.25, 0.5, 0.75, 0.9, 1], datum.value) >= 0", "value": 2}, "value": 1},
      "tickOpacity": {"condition": {"test": "indexof([0, 0.1, 0.25, 0.5, 0.75, 0.9, 1], datum.value) >= 0", "value": 1}, "value": 0},
      "gridColor": "#EBEBEB", "tickColor": "#333333", "tickWidth": 1.5, "tickSize": 6, "domain": false, "labelFlush": false, "labelOverlap": false, "labelPadding": 4, "labelFontSize": 22, "labelColor": "#4D4D4D", "title": "False positive fraction", "titleFontSize": 28, "titleFontWeight": "normal", "titleColor": "#000000", "titlePadding": 8}},
    "y": {"field": "tpf", "type": "quantitative", "scale": {"domain": [0, 1], "nice": false, "zero": false},
     "axis": {"values": [0, 0.01, 0.02, 0.03, 0.04, 0.05, 0.06, 0.07, 0.08, 0.09, 0.1, 0.25, 0.5, 0.75, 0.9, 0.91, 0.92, 0.93, 0.94, 0.95, 0.96, 0.97, 0.98, 0.99, 1],
      "labelExpr": "indexof([0, 0.1, 0.25, 0.5, 0.75, 0.9, 1], datum.value) >= 0 ? format(datum.value, '.2f') : ''",
      "gridWidth": {"condition": {"test": "indexof([0, 0.1, 0.25, 0.5, 0.75, 0.9, 1], datum.value) >= 0", "value": 2}, "value": 1},
      "tickOpacity": {"condition": {"test": "indexof([0, 0.1, 0.25, 0.5, 0.75, 0.9, 1], datum.value) >= 0", "value": 1}, "value": 0},
      "gridColor": "#EBEBEB", "tickColor": "#333333", "tickWidth": 1.5, "tickSize": 6, "domain": false, "labelOverlap": false, "labelPadding": 6, "labelFontSize": 22, "labelColor": "#4D4D4D", "title": "True positive fraction", "titleFontSize": 28, "titleFontWeight": "normal", "titleColor": "#000000", "titlePadding": 10, "minExtent": 56, "maxExtent": 56}}
   },
   "layer": [
    {"data": {"name": "roc_solid"},
     "mark": {"type": "line", "interpolate": "step-after", "strokeWidth": 4.6, "strokeCap": "butt"},
     "encoding": {
      "color": {"field": "group", "type": "nominal", "scale": {"domain": ["Adult long insular gyri", "Adult short insular gyri", "Fetal dysgranular insular cortex", "Fetal granular insular cortex"], "range": ["#D49F27", "#000000", "#000000", "#D49F27"]},
       "legend": {"title": "Gene Group", "orient": "none", "legendX": 520, "legendY": 645, "padding": 0, "fillColor": "white", "titleFontSize": 27, "titleFontWeight": "normal", "titleColor": "#000000", "titlePadding": 23, "labelFontSize": 22, "labelColor": "#000000", "labelLimit": 600, "symbolType": "stroke", "symbolSize": 3481, "symbolStrokeWidth": 4.7, "clipHeight": 24, "rowPadding": 20.4, "labelOffset": 19.8, "symbolOffset": 3.3}},
      "strokeDash": {"field": "group", "type": "nominal", "scale": {"domain": ["Adult long insular gyri", "Adult short insular gyri", "Fetal dysgranular insular cortex", "Fetal granular insular cortex"], "range": [[1, 0], [1, 0], [5, 16], [5, 16]]},
       "legend": {"title": "Gene Group", "orient": "none", "legendX": 520, "legendY": 645, "padding": 0, "fillColor": "white", "titleFontSize": 27, "titleFontWeight": "normal", "titleColor": "#000000", "titlePadding": 23, "labelFontSize": 22, "labelColor": "#000000", "labelLimit": 600, "symbolType": "stroke", "symbolSize": 3481, "symbolStrokeWidth": 4.7, "clipHeight": 24, "rowPadding": 20.4, "labelOffset": 19.8, "symbolOffset": 3.3}}
     }},
    {"data": {"name": "roc_dotted"},
     "mark": {"type": "line", "strokeWidth": 4.6, "strokeCap": "butt"},
     "encoding": {
      "color": {"field": "group", "type": "nominal", "scale": {"domain": ["Adult long insular gyri", "Adult short insular gyri", "Fetal dysgranular insular cortex", "Fetal granular insular cortex"], "range": ["#D49F27", "#000000", "#000000", "#D49F27"]},
       "legend": {"title": "Gene Group", "orient": "none", "legendX": 520, "legendY": 645, "padding": 0, "fillColor": "white", "titleFontSize": 27, "titleFontWeight": "normal", "titleColor": "#000000", "titlePadding": 23, "labelFontSize": 22, "labelColor": "#000000", "labelLimit": 600, "symbolType": "stroke", "symbolSize": 3481, "symbolStrokeWidth": 4.7, "clipHeight": 24, "rowPadding": 20.4, "labelOffset": 19.8, "symbolOffset": 3.3}},
      "strokeDash": {"field": "group", "type": "nominal", "scale": {"domain": ["Adult long insular gyri", "Adult short insular gyri", "Fetal dysgranular insular cortex", "Fetal granular insular cortex"], "range": [[1, 0], [1, 0], [5, 16], [5, 16]]},
       "legend": {"title": "Gene Group", "orient": "none", "legendX": 520, "legendY": 645, "padding": 0, "fillColor": "white", "titleFontSize": 27, "titleFontWeight": "normal", "titleColor": "#000000", "titlePadding": 23, "labelFontSize": 22, "labelColor": "#000000", "labelLimit": 600, "symbolType": "stroke", "symbolSize": 3481, "symbolStrokeWidth": 4.7, "clipHeight": 24, "rowPadding": 20.4, "labelOffset": 19.8, "symbolOffset": 3.3}}
     }},
    {"data": {"name": "chance"},
     "mark": {"type": "line", "color": "#E3E3E3", "strokeWidth": 1.2},
     "encoding": {}}
   ]
  },
  {
   "spacing": 21.4,
   "resolve": {"scale": {"x": "independent", "y": "independent"}},
   "vconcat": [
    {
     "width": 943, "height": 34.5,
     "title": {"text": "Adult long insular gyri", "anchor": "middle", "frame": "group", "fontSize": 22, "fontWeight": "normal", "color": "#1A1A1A", "offset": -23.7},
     "data": {"name": "strips"},
     "transform": [{"filter": "datum.group === 'Adult long insular gyri'"}],
     "mark": {"type": "rule", "color": "#D49F27", "strokeWidth": 2},
     "encoding": {
      "x": {"field": "pct", "type": "quantitative", "scale": {"domain": [0, 1], "nice": false, "zero": false}, "axis": null},
      "y": {"datum": 0, "type": "quantitative", "scale": {"domain": [0, 1], "nice": false},
       "axis": {"values": [1], "labelExpr": "'B'", "labelFontSize": 19, "labelFontWeight": "bold", "labelColor": "#000000", "labelAlign": "right", "labelBaseline": "middle", "labelPadding": 73, "labelOffset": -24.5, "labelBound": false, "labelFlush": false, "labelOverlap": false, "ticks": false, "tickSize": 0, "domain": false, "grid": false, "title": ".", "titleOpacity": 0, "titleFontSize": 28, "titlePadding": 10, "minExtent": 56, "maxExtent": 56}},
      "y2": {"datum": 1}
     }
    },
    {
     "width": 943, "height": 34.5,
     "title": {"text": "Adult short insular gyri", "anchor": "middle", "frame": "group", "fontSize": 22, "fontWeight": "normal", "color": "#1A1A1A", "offset": 10},
     "data": {"name": "strips"},
     "transform": [{"filter": "datum.group === 'Adult short insular gyri'"}],
     "mark": {"type": "rule", "color": "#000000", "strokeWidth": 2},
     "encoding": {
      "x": {"field": "pct", "type": "quantitative", "scale": {"domain": [0, 1], "nice": false, "zero": false}, "axis": null},
      "y": {"datum": 0, "type": "quantitative", "scale": {"domain": [0, 1], "nice": false},
       "axis": {"labels": false, "ticks": false, "tickSize": 0, "domain": false, "grid": false, "title": ".", "titleOpacity": 0, "titleFontSize": 28, "titlePadding": 10, "minExtent": 56, "maxExtent": 56}},
      "y2": {"datum": 1}
     }
    },
    {
     "width": 943, "height": 34.5,
     "title": {"text": "Fetal dysgranular insular cortex", "anchor": "middle", "frame": "group", "fontSize": 22, "fontWeight": "normal", "color": "#1A1A1A", "offset": 10},
     "data": {"name": "strips"},
     "transform": [{"filter": "datum.group === 'Fetal dysgranular insular cortex'"}],
     "mark": {"type": "rule", "color": "#000000", "strokeWidth": 2, "strokeDash": [12, 10]},
     "encoding": {
      "x": {"field": "pct", "type": "quantitative", "scale": {"domain": [0, 1], "nice": false, "zero": false}, "axis": null},
      "y": {"datum": 0, "type": "quantitative", "scale": {"domain": [0, 1], "nice": false},
       "axis": {"labels": false, "ticks": false, "tickSize": 0, "domain": false, "grid": false, "title": ".", "titleOpacity": 0, "titleFontSize": 28, "titlePadding": 10, "minExtent": 56, "maxExtent": 56}},
      "y2": {"datum": 1}
     }
    },
    {
     "width": 943, "height": 34.5,
     "title": {"text": "Fetal granular insular cortex", "anchor": "middle", "frame": "group", "fontSize": 22, "fontWeight": "normal", "color": "#1A1A1A", "offset": 10},
     "data": {"name": "strips"},
     "transform": [{"filter": "datum.group === 'Fetal granular insular cortex'"}],
     "mark": {"type": "rule", "color": "#D49F27", "strokeWidth": 2, "strokeDash": [12, 10]},
     "encoding": {
      "x": {"field": "pct", "type": "quantitative", "scale": {"domain": [0, 1], "nice": false, "zero": false},
       "axis": {"values": [0, 1], "labelExpr": "datum.value < 0.5 ? 'Enriched' : 'Depleted'", "labelFlush": true, "labelFlushOffset": 12, "ticks": false, "tickSize": 0, "domain": false, "grid": false, "labelPadding": 10, "labelFontSize": 22, "labelColor": "#4D4D4D", "labelOverlap": false, "title": "Insula Specific Expression (20778 genes)", "titleFontSize": 28, "titleFontWeight": "normal", "titleColor": "#000000", "titlePadding": 10}},
      "y": {"datum": 0, "type": "quantitative", "scale": {"domain": [0, 1], "nice": false},
       "axis": {"labels": false, "ticks": false, "tickSize": 0, "domain": false, "grid": false, "title": ".", "titleOpacity": 0, "titleFontSize": 28, "titlePadding": 10, "minExtent": 56, "maxExtent": 56}},
      "y2": {"datum": 1}
     }
    }
   ]
  }
 ],
 "config": {
  "font": "Liberation Sans",
  "view": {"stroke": "#333333", "strokeWidth": 1.6},
  "title": {"font": "Liberation Sans"},
  "axis": {"labelFont": "Liberation Sans", "titleFont": "Liberation Sans"},
  "legend": {"labelFont": "Liberation Sans", "titleFont": "Liberation Sans"}
 }
}
